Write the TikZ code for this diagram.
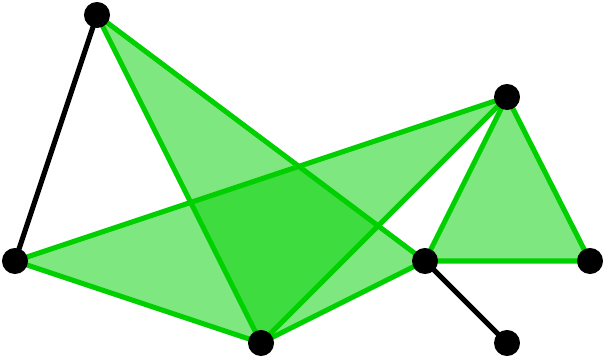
\documentclass[tikz,border=0pt]{standalone}
\begin{document}
\begin{tikzpicture}[x=0.025cm, y=-0.025cm, line join=round, line cap=round,
	dinh/.style={circle, fill=black, inner sep=0pt, minimum size=18.5pt},
	mat/.style={fill=xanh, fill opacity=0.5},
	canh/.style={draw=xanh, line width=3.6pt},
	doan/.style={draw=black, line width=3.6pt}]
	\definecolor{xanh}{RGB}{0,208,0}
	\useasboundingbox (0,0) rectangle (604,359);
	% các đỉnh
	\path 
	(97,15) coordinate (A)
	(507,97) coordinate (B)
	(15,261) coordinate (C)
	(261,343) coordinate (D)
	(425,261) coordinate (E)
	(590,261) coordinate (F)
	(507,343) coordinate (G);
	% các mặt tam giác
	\fill[mat] (A)--(D)--(E)--cycle;
	\fill[mat] (C)--(D)--(B)--cycle;
	\fill[mat] (B)--(E)--(F)--cycle;
	\draw[canh] (A)--(D)--(E)--cycle;
	\draw[canh] (C)--(D)--(B)--cycle;
	\draw[canh] (B)--(E)--(F)--cycle;
	\draw[doan] (A)--(C);
	\draw[doan] (E)--(G);
	\foreach \p in {A,B,C,D,E,F,G}
		\node[dinh] (n\p) at (\p) {};
\end{tikzpicture}
\end{document}
